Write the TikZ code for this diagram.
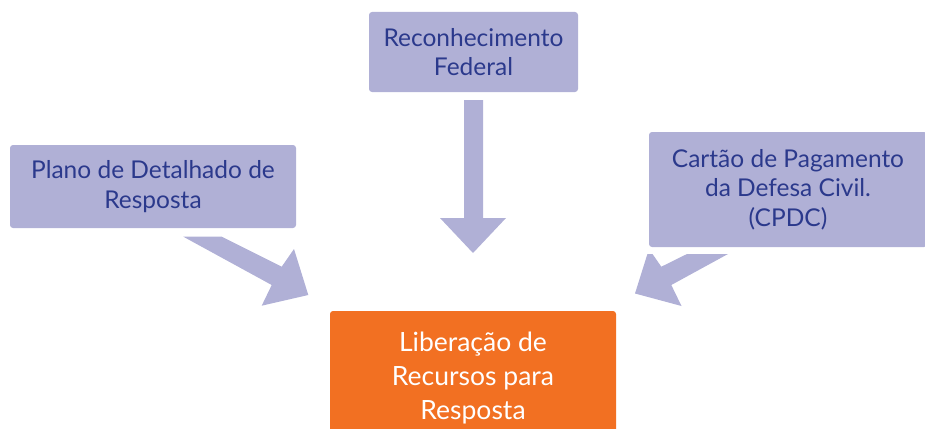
\documentclass[tikz,border=0pt]{standalone}
\usepackage{fontspec}
\setmainfont{Lato}
\definecolor{lav}{RGB}{176,176,214}
\definecolor{txtblue}{RGB}{43,57,140}
\definecolor{orng}{RGB}{242,112,34}
\begin{document}
\begin{tikzpicture}[x=1pt,y=-1pt,
  lbox/.style={fill=lav, rounded corners=3pt, inner sep=0pt, align=center,
    text=txtblue, font=\fontsize{24.5}{29.5}\selectfont},
  obox/.style={fill=orng, rounded corners=3pt, inner sep=0pt, align=center,
    text=white, font=\fontsize{26.5}{34}\selectfont},
  blockarrow/.style={fill=lav, draw=none}]
\useasboundingbox (0,0) rectangle (925,428);
\clip (0,0) rectangle (925,428);
% boxes
\node[lbox, minimum width=209pt, minimum height=80pt] (rf) at (473.5,52) {Reconhecimento\\Federal};
\node[lbox, minimum width=286pt, minimum height=83pt] (pdr) at (153,186.5) {Plano de Detalhado de\\Resposta};
\node[lbox, minimum width=278pt, minimum height=115pt] (cpdc) at (788,189.5) {Cartão de Pagamento\\da Defesa Civil.\\(CPDC)};
\node[obox, minimum width=286pt, minimum height=134pt] (lib) at (473,378) {Liberação de\\Recursos para\\Resposta};
% arrows
\fill[blockarrow] (464,100) -- (483,100) -- (483,218) -- (506,218) -- (473,253) -- (440,218) -- (464,218) -- cycle;
\fill[blockarrow] (183.3,236.7) -- (221.7,236.7) -- (281.7,266.7) -- (294,249) -- (308.3,295) -- (261.7,305.7) -- (271.7,285) -- cycle;
\fill[blockarrow] (647.4,254) -- (652.5,254) -- (661.3,266.7) -- (687,254) -- (728,254) -- (671.3,285) -- (681.5,306) -- (635,293.5) -- cycle;
\end{tikzpicture}
\end{document}
